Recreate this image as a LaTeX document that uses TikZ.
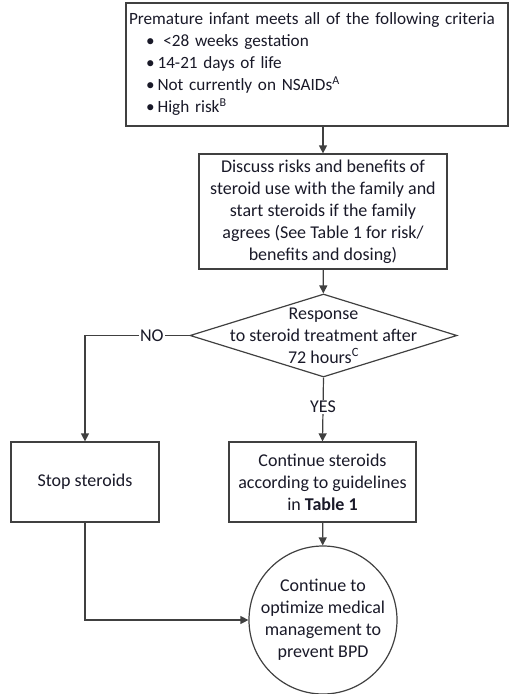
\documentclass[tikz,border=0pt]{standalone}
\usepackage{fontspec}
\setmainfont{Carlito}
\usetikzlibrary{shapes.geometric, arrows.meta, positioning}
\definecolor{myink}{RGB}{25,25,40}
\definecolor{myline}{RGB}{64,64,64}
\newcommand{\flowfont}{\fontsize{18}{22}\selectfont}
\tikzset{
  box/.style={rectangle, draw=myline, line width=1.2pt,
    align=center, inner sep=4pt, text=myink, font=\flowfont},
  decision/.style={diamond, draw=myline, line width=1.2pt,
    minimum width=267pt, minimum height=83pt, inner sep=0pt},
  endnode/.style={circle, draw=myline, line width=1.2pt,
    align=center, inner sep=0pt, minimum size=148pt, text=myink, font=\flowfont},
  arrow/.style={-{Triangle[length=8pt,width=8pt]}, line width=1.2pt, color=myline},
  line/.style={line width=1.2pt, color=myline},
  tag/.style={fill=white, inner sep=1.5pt, text=myink, font=\flowfont}
}

\begin{document}
\begin{tikzpicture}[x=1pt, y=-1pt]
  \useasboundingbox (0,0) rectangle (510,694);

  % --- Criteria ---
  \node[box, minimum width=382pt, minimum height=123pt, text width=376pt, inner xsep=3pt,
        align=left, font=\fontsize{17.2}{22}\selectfont] (crit) at (317,64.5)
    {Premature infant meets all of the following criteria\\
     \hspace*{17pt}\textbullet\hspace{3pt}\ {<}28 weeks gestation\\
     \hspace*{17pt}\textbullet\hspace{3pt}14-21 days of life\\
     \hspace*{17pt}\textbullet\hspace{3pt}Not currently on NSAIDs\textsuperscript{A}\\
     \hspace*{17pt}\textbullet\hspace{3pt}High risk\textsuperscript{B}};

  % --- Discussion and decision ---
  \node[box, minimum width=248pt, minimum height=115pt] (discuss) at (323,211.5)
    {Discuss risks and benefits of\\
     steroid use with the family and\\
     start steroids if the family\\
     agrees (See Table 1 for risk/\\
     benefits and dosing)};
  \node[decision] (resp) at (323.5,335.5) {};
  \node[align=center, inner sep=0pt, text=myink, font=\flowfont] (resplbl) at (resp.center)
    {Response\\ to steroid treatment after\\ 72 hours\textsuperscript{C}};

  % --- Outcomes ---
  \node[box, minimum width=148pt, minimum height=80pt] (stop) at (85,482) {Stop steroids};
  \node[box, minimum width=187pt, minimum height=80pt] (cont) at (322.5,482)
    {Continue steroids\\ according to guidelines\\ in \textbf{Table 1}};
  \node[endnode] (bpd) at (323,620)
    {Continue to\\ optimize medical\\ management to\\ prevent BPD};

  \draw[arrow] (discuss.north |- crit.south) -- (discuss.north);
  \draw[arrow] (discuss) -- (resp);
  \draw[arrow] (resp.west) -| node[tag, pos=0.18] (no) {NO} (stop.north);
  \draw[arrow] (resp.south) -- node[tag, pos=0.46] (yes) {YES} (cont.north);
  \draw[arrow] (cont) -- (bpd);
  \draw[arrow] (stop.south) |- (bpd.west);
\end{tikzpicture}
\end{document}
